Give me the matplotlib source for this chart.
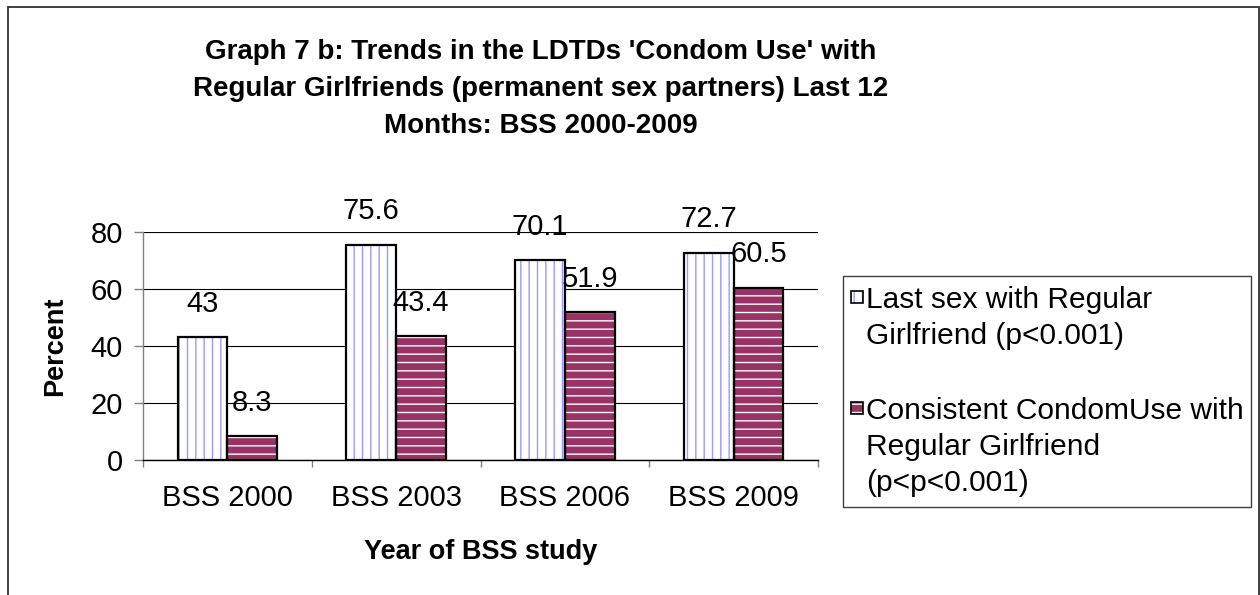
import matplotlib
matplotlib.use("Agg")
import matplotlib.pyplot as plt
from matplotlib.patches import Rectangle
import numpy as np

# data
categories = ["BSS 2000", "BSS 2003", "BSS 2006", "BSS 2009"]
last_sex = [43, 75.6, 70.1, 72.7]
consistent_use = [8.3, 43.4, 51.9, 60.5]
last_sex_label = "Last sex with Regular\nGirlfriend (p<0.001)"
consistent_label = "Consistent CondomUse with\nRegular Girlfriend\n(p<p<0.001)"
title = ("Graph 7 b: Trends in the LDTDs 'Condom Use' with\n"
         "Regular Girlfriends (permanent sex partners) Last 12\n"
         "Months: BSS 2000-2009")
yticks = [0, 20, 40, 60, 80]

W, H = 1260, 595

plt.rcParams['font.family'] = ['Liberation Sans', 'DejaVu Sans']
plt.rcParams['hatch.linewidth'] = 1.0


def fx(x):
    return x / W


def fy(y):
    return 1 - y / H


blue_line = '#9999FF'
purple = '#993366'

fig = plt.figure(figsize=(W / 100, H / 100), dpi=100)
ax = fig.add_axes([fx(143), fy(460), fx(818) - fx(143), fy(232) - fy(460)])

x = np.arange(len(categories))
bw = 0.295

# hatch layers, then black outlines on top
ax.bar(x - bw / 2, last_sex, bw, facecolor='white', edgecolor=blue_line,
       hatch='||', linewidth=0, zorder=3)
ax.bar(x - bw / 2, last_sex, bw, fill=False, edgecolor='black',
       linewidth=1.6, zorder=4)
ax.bar(x + bw / 2, consistent_use, bw, facecolor=purple, edgecolor='white',
       hatch='--', linewidth=0, zorder=3)
ax.bar(x + bw / 2, consistent_use, bw, fill=False, edgecolor='black',
       linewidth=1.6, zorder=4)

# value labels above bars
for xi, v in zip(x, last_sex):
    ax.annotate(f"{v:g}", (xi - bw / 2, v), xytext=(0, 24),
                textcoords='offset points', ha='center', va='center',
                fontsize=21)
for xi, v in zip(x, consistent_use):
    ax.annotate(f"{v:g}", (xi + bw / 2, v), xytext=(0, 24),
                textcoords='offset points', ha='center', va='center',
                fontsize=21)

ax.set_xlim(-0.5, len(categories) - 0.5)
ax.set_ylim(0, 80)
ax.set_yticks(yticks)
ax.set_xticks(x)
ax.set_xticklabels(categories)
ax.set_xticks(np.arange(-0.5, len(categories)), minor=True)
ax.tick_params(axis='x', which='major', length=0, labelsize=21, pad=17)
ax.tick_params(axis='x', which='minor', length=5, color='#808080',
               width=1)
ax.tick_params(axis='y', length=6.5, color='#808080', width=1,
               labelsize=21, pad=8)

ax.yaxis.grid(True, color='black', linewidth=0.8, zorder=0)
ax.set_axisbelow(True)
for side in ['top', 'right']:
    ax.spines[side].set_visible(False)
ax.spines['left'].set_color('#808080')
ax.spines['bottom'].set_color('black')
ax.spines['left'].set_linewidth(1)
ax.spines['bottom'].set_linewidth(1)

ax.set_xlabel("Year of BSS study", fontsize=19.5, fontweight='bold',
              labelpad=20)
ax.set_ylabel("Percent", fontsize=19.5, fontweight='bold', labelpad=16)

# title
fig.text(fx(541), fy(39), title, ha='center', va='top',
         multialignment='center', fontsize=20, fontweight='bold',
         linespacing=1.56)

# outer frame (cut at bottom)
fig.patches.append(Rectangle((fx(8), fy(600)), fx(1259) - fx(8),
                             fy(7) - fy(600), transform=fig.transFigure,
                             fill=False, edgecolor='#303030', linewidth=1.3))

# legend box drawn by hand so handles sit on the first line of each label
fig.patches.append(Rectangle((fx(843), fy(507)), fx(1251) - fx(843),
                             fy(276) - fy(507), transform=fig.transFigure,
                             fill=False, edgecolor='#404040', linewidth=1.0))
entries = [(297, dict(facecolor='white', edgecolor=blue_line, hatch='||'),
            last_sex_label),
           (408, dict(facecolor=purple, edgecolor='white', hatch='--'),
            consistent_label)]
for yc, style, label in entries:
    fig.patches.append(Rectangle((fx(851), fy(yc + 6)), fx(12), 12 / H,
                                 transform=fig.transFigure, linewidth=0,
                                 **style))
    fig.patches.append(Rectangle((fx(851), fy(yc + 6)), fx(12), 12 / H,
                                 transform=fig.transFigure, fill=False,
                                 edgecolor='black', linewidth=1.2))
    fig.text(fx(866), fy(yc - 11), label, ha='left', va='top',
             fontsize=21.5, linespacing=1.36)

fig.savefig("out.png", dpi=100)
